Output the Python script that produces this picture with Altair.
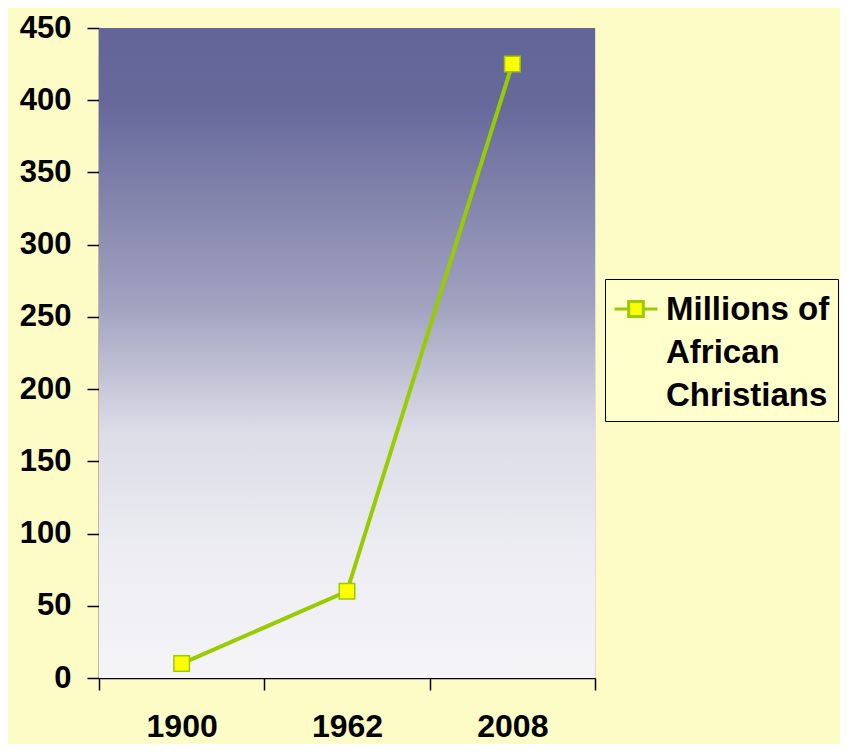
import altair as alt
import pandas as pd

years = ["1900", "1962", "2008"]
values = [10, 60, 425]
series = ["Millions of African Christians"] * 3

df = pd.DataFrame({"year": years, "value": values, "series": series})

W, H = 496, 650
FONT = "Liberation Sans"

x_enc = alt.X(
    "year:N",
    sort=years,
    scale=alt.Scale(paddingInner=0, paddingOuter=0),
    axis=alt.Axis(
        title=None, tickBand="extent", labelAngle=0, labelFont=FONT,
        labelFontSize=32, labelFontWeight="bold", labelColor="#000000",
        labelLineHeight=32,
        labelPadding=21, labelBaseline="top", tickSize=12, tickColor="#000000",
        domainColor="#000000", tickWidth=1.5, domainWidth=1.5,
    ),
)
y_enc = alt.Y(
    "value:Q",
    scale=alt.Scale(domain=[0, 450], nice=False),
    axis=alt.Axis(
        title=None, values=list(range(0, 451, 50)), grid=False, labelFont=FONT,
        labelFontSize=31, labelFontWeight="bold", labelColor="#000000",
        labelLineHeight=31,
        labelPadding=16, tickSize=12, tickColor="#000000", domainColor="#000000",
        tickWidth=1.5, domainWidth=1.5,
    ),
)

bg = alt.Chart(pd.DataFrame({"a": [0]})).mark_rect(
    fill=alt.Gradient(
        gradient="linear",
        x1=0, x2=0, y1=0, y2=1,
        stops=[
            alt.GradientStop(offset=0, color="#636598"),
            alt.GradientStop(offset=0.12, color="#67699b"),
            alt.GradientStop(offset=0.43, color="#a2a3c0"),
            alt.GradientStop(offset=0.62, color="#dcdce7"),
            alt.GradientStop(offset=0.8, color="#ececf2"),
            alt.GradientStop(offset=1, color="#f5f5f8"),
        ],
    )
).encode(x=alt.value(0), x2=alt.value(W), y=alt.value(0), y2=alt.value(H))

sym_path = "M-1,-0.05H-0.34M0.34,-0.05H1M-0.34,-0.4H0.34V0.3H-0.34Z"

line = alt.Chart(df).mark_line(strokeWidth=4).encode(
    x=x_enc,
    y=y_enc,
    color=alt.Color(
        "series:N",
        scale=alt.Scale(range=["#99CC00"]),
        legend=alt.Legend(
            title=None, orient="none", legendX=506, legendY=251,
            symbolType=sym_path, symbolSize=1849, symbolStrokeWidth=3,
            symbolFillColor="#FFFF00", symbolStrokeColor="#99CC00",
            labelFont=FONT, labelFontSize=33, labelFontWeight="bold",
            labelColor="#000000", labelBaseline="middle",
            labelExpr="['Millions of', 'African', 'Christians']",
            labelLimit=400, labelOffset=7, fillColor="#FFFFCC",
            strokeColor="#000000", padding=8,
        ),
    ),
)

pts = alt.Chart(df).mark_point(
    shape="square", filled=True, size=240, fill="#FFFF00",
    stroke="#99CC00", strokeWidth=1.5, opacity=1,
).encode(x=x_enc, y=y_enc)

chart = (
    alt.layer(bg, line, pts)
    .properties(
        width=W, height=H, background="#FDFBC6",
        autosize=alt.AutoSizeParams(type="none"),
        padding={"left": 91, "top": 20, "right": 245, "bottom": 66},
    )
    .configure_view(stroke="#222222", strokeWidth=1)
    .configure(style={"guide-label": {"lineHeight": 43}})
)

chart.save("out.html", embed_options={"renderer": "svg", "actions": False})
